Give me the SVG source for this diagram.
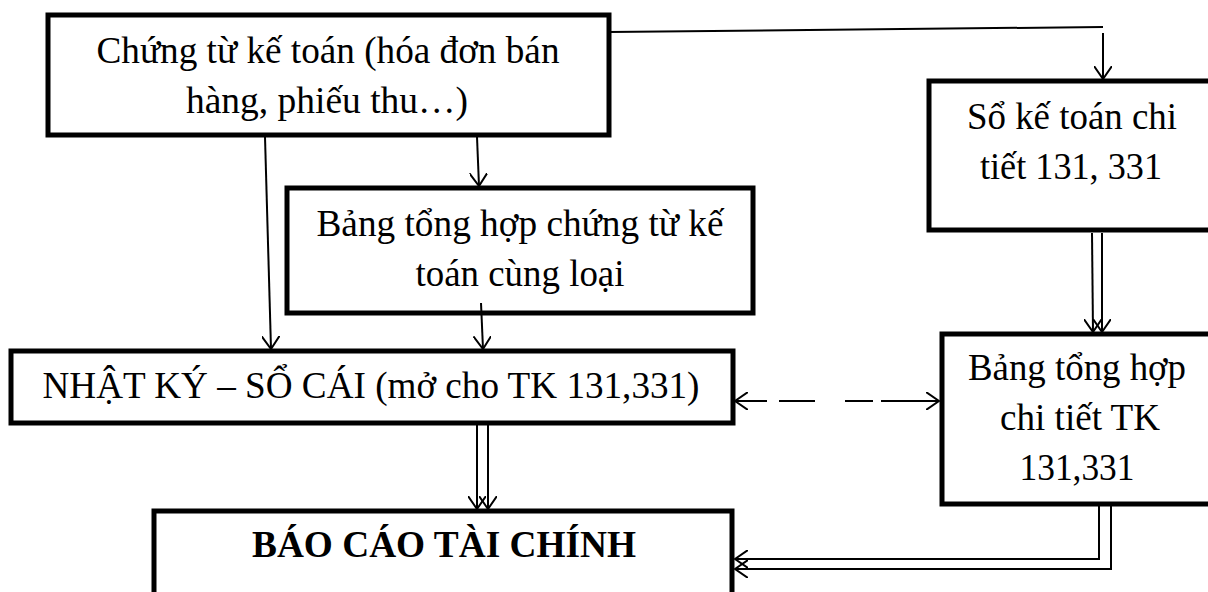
<svg xmlns="http://www.w3.org/2000/svg" width="1208" height="592" viewBox="0 0 1208 592">
<style>
.box{fill:#fff;stroke:#000;stroke-width:5}
.t{font-family:"Liberation Serif","Times New Roman",serif;font-size:37px;fill:#000;text-anchor:middle}
.b{font-weight:bold}
.c{fill:none;stroke:#000;stroke-width:2}
.a{marker-end:url(#ah)}
.d{marker-start:url(#ah);marker-end:url(#ah)}
</style>
<defs>
<marker id="ah" viewBox="0 0 14 18" refX="13" refY="9" markerWidth="14" markerHeight="18" markerUnits="userSpaceOnUse" orient="auto-start-reverse">
<path d="M0,0 L13,9 L0,18" fill="none" stroke="#000" stroke-width="2"/>
</marker>
</defs>
<rect width="1208" height="592" fill="#fff"/>
<g id="n1">
<rect class="box" x="48" y="15" width="561" height="120"/>
<text class="t" x="328" y="63" textLength="463" lengthAdjust="spacingAndGlyphs">Chứng từ kế toán (hóa đơn bán</text>
<text class="t" x="327" y="113" textLength="282" lengthAdjust="spacingAndGlyphs">hàng, phiếu thu…)</text>
</g>
<g id="n2">
<rect class="box" x="929" y="81" width="300" height="149"/>
<text class="t" x="1072" y="129" textLength="210" lengthAdjust="spacingAndGlyphs">Sổ kế toán chi</text>
<text class="t" x="1071" y="179" textLength="182" lengthAdjust="spacingAndGlyphs">tiết 131, 331</text>
</g>
<g id="n3">
<rect class="box" x="287" y="188" width="466" height="125"/>
<text class="t" x="520" y="236" textLength="407" lengthAdjust="spacingAndGlyphs">Bảng tổng hợp chứng từ kế</text>
<text class="t" x="520" y="286" textLength="209" lengthAdjust="spacingAndGlyphs">toán cùng loại</text>
</g>
<g id="n4">
<rect class="box" x="11" y="351" width="722" height="72"/>
<text class="t" x="371" y="398" textLength="657" lengthAdjust="spacingAndGlyphs">NHẬT KÝ – SỔ CÁI (mở cho TK 131,331)</text>
</g>
<g id="n5">
<rect class="box" x="942" y="334" width="290" height="170"/>
<text class="t" x="1077" y="380" textLength="218" lengthAdjust="spacingAndGlyphs">Bảng tổng hợp</text>
<text class="t" x="1080" y="430" textLength="160" lengthAdjust="spacingAndGlyphs">chi tiết TK</text>
<text class="t" x="1077" y="480" textLength="115" lengthAdjust="spacingAndGlyphs">131,331</text>
</g>
<g id="n6">
<rect class="box" x="154" y="511" width="578" height="100"/>
<text class="t b" x="444" y="557" textLength="384" lengthAdjust="spacingAndGlyphs">BÁO CÁO TÀI CHÍNH</text>
</g>
<g id="connectors">
<path class="c a" d="M265,137 L271,349"/>
<path class="c a" d="M477,137 L479,186"/>
<path class="c a" d="M481,303 L483,349"/>
<path class="c" d="M609,32 L1103,27"/>
<path class="c a" d="M1103,33 L1103,79"/>
<path class="c a" d="M1092,233 L1093,332"/>
<path class="c a" d="M1102,233 L1102,332"/>
<path class="c a" d="M477,425 L477,509"/>
<path class="c a" d="M488,425 L488,509"/>
<path class="c a" d="M1099,506 L1099,559 L735,559"/>
<path class="c a" d="M1111,506 L1111,569 L735,569"/>
<path class="c d" d="M735,401 L767,401 M779,401 L815,401 M845,401 L873,401 M881,401 L939,401"/>
</g>
</svg>
